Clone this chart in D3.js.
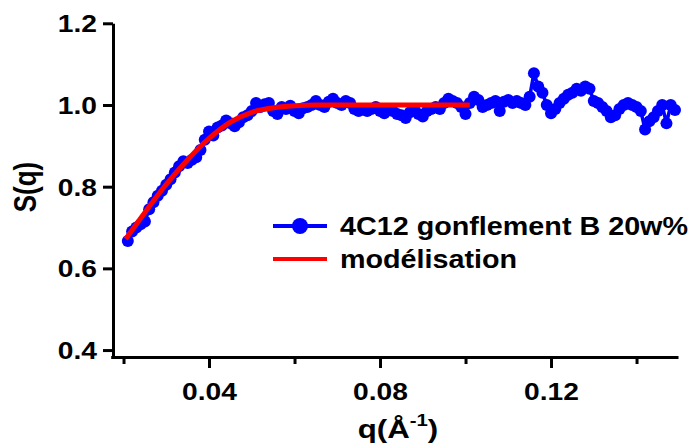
<!DOCTYPE html>
<html>
<head>
<meta charset="utf-8">
<script src="https://cdn.jsdelivr.net/npm/d3@7"></script>
<style>
body{margin:0;background:#fff;}
text{font-family:"Liberation Sans",Arial,sans-serif;font-weight:bold;fill:#000;}
</style>
</head>
<body>
<script>
var w = 692;
var h = 446;
var stretch = 1.2; // the picture is a bit wider than tall fonts

// measured points S(q)
var qData = [0.021,0.022,0.023,0.024,0.025,0.026,0.027,0.028,0.029,0.030,
             0.031,0.032,0.033,0.034,0.035,0.036,0.037,0.038,0.039,0.040,
             0.041,0.042,0.043,0.044,0.045,0.046,0.047,0.048,0.049,0.050,
             0.051,0.052,0.053,0.054,0.055,0.056,0.057,0.058,0.059,0.060,
             0.061,0.062,0.063,0.064,0.065,0.066,0.067,0.068,0.069,0.070,
             0.071,0.072,0.073,0.074,0.075,0.076,0.077,0.078,0.079,0.080,
             0.081,0.082,0.083,0.084,0.085,0.086,0.087,0.088,0.089,0.090,
             0.091,0.092,0.093,0.094,0.095,0.096,0.097,0.098,0.099,0.100,
             0.101,0.102,0.103,0.104,0.105,0.106,0.107,0.108,0.109,0.110,
             0.111,0.112,0.113,0.114,0.115,0.116,0.117,0.118,0.119,0.120,
             0.121,0.122,0.123,0.124,0.125,0.126,0.127,0.128,0.129,0.130,
             0.131,0.132,0.133,0.134,0.135,0.136,0.137,0.138,0.139,0.140,
             0.141,0.142,0.143,0.144,0.145,0.146,0.147,0.148,0.149];
var sData = [0.667,0.690,0.700,0.708,0.715,0.745,0.762,0.778,0.790,0.805,
             0.818,0.835,0.850,0.862,0.858,0.866,0.872,0.890,0.915,0.935,
             0.925,0.945,0.950,0.962,0.955,0.948,0.958,0.970,0.975,0.985,
             1.005,0.995,1.002,1.005,0.985,0.978,0.995,0.990,0.998,0.985,
             0.980,0.992,0.995,1.000,1.010,1.000,0.995,1.008,1.015,1.005,
             1.000,1.010,1.005,0.990,0.985,0.990,0.985,0.990,0.995,0.985,
             0.980,0.990,0.985,0.978,0.975,0.968,0.982,0.990,0.978,0.972,
             0.985,0.990,0.995,0.990,1.005,1.015,1.010,1.005,0.995,0.978,
             1.005,1.020,1.012,0.995,1.000,1.005,1.010,0.985,1.008,1.012,
             1.005,1.010,1.005,1.000,1.020,1.078,1.045,1.030,1.000,0.980,
             0.990,1.005,1.015,1.025,1.030,1.040,1.035,1.045,1.040,1.010,
             1.005,0.995,0.985,0.970,0.975,0.990,1.000,1.005,1.000,0.995,
             0.985,0.940,0.960,0.970,0.985,1.000,0.955,1.000,0.988];

// fitted model
var qModel = [0.0205,0.025,0.030,0.035,0.040,0.045,0.050,0.055,0.060,0.065,0.070,0.080,0.090,0.101];
var sModel = [0.672,0.737,0.806,0.866,0.918,0.958,0.982,0.993,0.998,1.000,1.000,1.000,1.000,1.000];

var majorTicksX = [0.04,0.08,0.12];
var minorTicksX = [0.02,0.06,0.10,0.14];
var ticksY = [0.4,0.6,0.8,1.0,1.2];

var seriesNames = ["4C12 gonflement B 20w%","modélisation"];
var legendWidths = [348,177];

var xScale = d3.scaleLinear()
                .domain([0.017,0.1497])
                .range([110.7,678]);

var yScale = d3.scaleLinear()
                .domain([0.383,1.2])
                .range([357,23.3]);

var svg = d3.select("body")
            .append("svg")
            .attr("width",w)
            .attr("height",h);

// axes
var xMinor = svg.append("g")
    .attr("transform","translate(0,357)")
    .call(d3.axisBottom(xScale).tickValues(minorTicksX).tickSize(7).tickSizeOuter(0).tickFormat(""));
xMinor.select(".domain").remove();

var xMajor = svg.append("g")
    .attr("transform","translate(0,357)")
    .call(d3.axisBottom(xScale).tickValues(majorTicksX).tickSize(11).tickSizeOuter(0).tickFormat(d3.format(".2f")));

var yAxis = svg.append("g")
    .attr("transform","translate(113,0)")
    .call(d3.axisLeft(yScale).tickValues(ticksY).tickSize(10).tickSizeOuter(0).tickFormat(d3.format(".1f")));

svg.selectAll(".domain").attr("stroke","#000").attr("stroke-width",3);
svg.selectAll(".tick line").attr("stroke","#000").attr("stroke-width",3);

xMajor.selectAll(".tick text")
    .attr("font-size",23.5)
    .attr("y",0)
    .attr("dy",0)
    .attr("transform","translate(0,43) scale(" + stretch + ",1)");

yAxis.selectAll(".tick text")
    .attr("font-size",23.5)
    .attr("x",0)
    .attr("dy","0.36em")
    .attr("transform","translate(-16,0) scale(" + stretch + ",1)");

// axis titles
svg.append("text")
    .attr("transform","translate(36,187) scale(" + stretch + ",1) rotate(-90)")
    .attr("text-anchor","middle")
    .attr("font-size",26)
    .text("S(q)");

var xt = svg.append("text")
    .attr("transform","translate(398,438) scale(" + stretch + ",1)")
    .attr("text-anchor","middle")
    .attr("font-size",26);
xt.append("tspan").text("q(Å");
xt.append("tspan").attr("font-size",17).attr("dy",-12).text("-1");
xt.append("tspan").attr("dy",12).text(")");

// data
var pts = qData.map(function(d,i){ return [d, sData[i]]; });
var modelPts = qModel.map(function(d,i){ return [d, sModel[i]]; });

var line = d3.line()
    .x(function(d){ return xScale(d[0]); })
    .y(function(d){ return yScale(d[1]); });

svg.append("path")
    .datum(pts)
    .attr("d",line)
    .attr("fill","none")
    .attr("stroke","#0000ff")
    .attr("stroke-width",3.5);

svg.selectAll("circle.pt")
    .data(pts)
    .enter()
    .append("circle")
    .attr("class","pt")
    .attr("cx",function(d){ return xScale(d[0]); })
    .attr("cy",function(d){ return yScale(d[1]); })
    .attr("r",6)
    .attr("fill","#0000ff");

svg.append("path")
    .datum(modelPts)
    .attr("d",line.curve(d3.curveMonotoneX))
    .attr("fill","none")
    .attr("stroke","#ff0000")
    .attr("stroke-width",5);

// legend
var legend = svg.append("g");
legend.append("line")
    .attr("x1",273).attr("x2",327).attr("y1",226).attr("y2",226)
    .attr("stroke","#0000ff").attr("stroke-width",4);
legend.append("circle")
    .attr("cx",300).attr("cy",226).attr("r",8)
    .attr("fill","#0000ff");
legend.append("line")
    .attr("x1",273).attr("x2",327).attr("y1",259).attr("y2",259)
    .attr("stroke","#ff0000").attr("stroke-width",4);

legend.selectAll("text.leg")
    .data(seriesNames)
    .enter()
    .append("text")
    .attr("class","leg")
    .attr("font-size",25)
    .attr("x",340)
    .attr("y",function(d,i){ return 235 + i*33; })
    .attr("textLength",function(d,i){ return legendWidths[i]; })
    .attr("lengthAdjust","spacingAndGlyphs")
    .text(function(d){ return d; });
</script>
</body>
</html>
